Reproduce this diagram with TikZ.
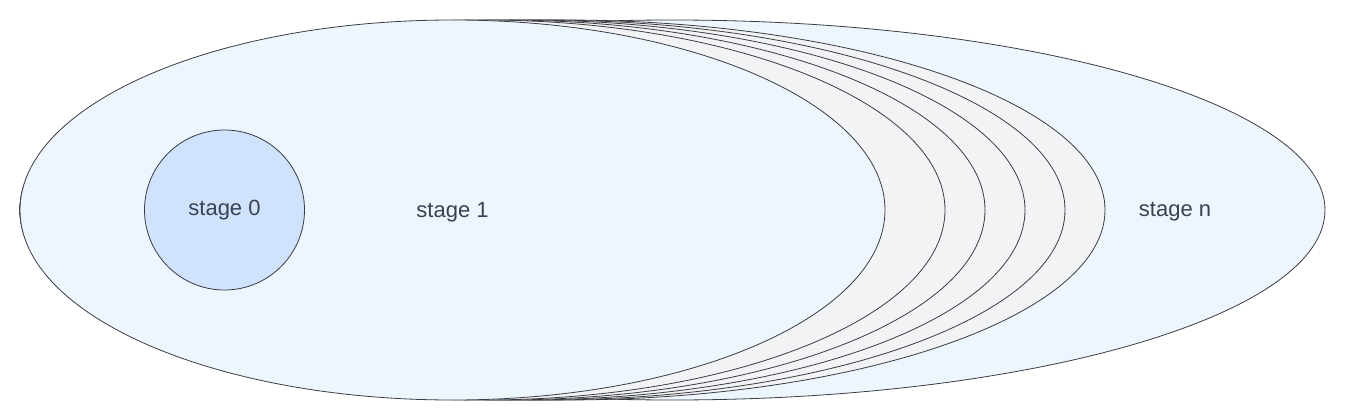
\documentclass[tikz,border=0pt]{standalone}
\usepackage{xcolor}
\usepackage{fontspec}
\setmainfont{Liberation Sans}
\usepackage{tikz}
\usetikzlibrary{shapes}
\definecolor{stageblue}{HTML}{EDF5FF}
\definecolor{stagegrey}{HTML}{F2F3F5}
\definecolor{zeroblue}{HTML}{CFE3FF}
\definecolor{edgegrey}{HTML}{3A3D42}
\definecolor{labelgrey}{HTML}{3A4250}
\tikzset{
  stage node/.style={ellipse,draw=edgegrey,line width=0.8pt,inner sep=0pt,minimum height=380pt},
  label node/.style={font=\fontsize{22}{26}\selectfont,text=labelgrey}
}

\begin{document}
\begin{tikzpicture}[x=1pt,y=-1pt]
		    \useasboundingbox (0,0) rectangle (1345,420);
		    \node[stage node,fill=stageblue,minimum width=1305pt] (n) at (672.5,210) {};
		    \node[stage node,fill=stagegrey,minimum width=1085pt] (5) at (562.5,210) {};
		    \node[stage node,fill=stagegrey,minimum width=1045pt] (4) at (542.5,210) {};
		    \node[stage node,fill=stagegrey,minimum width=1005pt] (3) at (522.5,210) {};
		    \node[stage node,fill=stagegrey,minimum width=965pt] (2) at (502.5,210) {};
		    \node[stage node,fill=stagegrey,minimum width=925pt] (1a) at (482.5,210) {};
		    \node[stage node,fill=stageblue,minimum width=865pt] (1) at (452.5,210) {};
		    \node[circle,draw=edgegrey,line width=0.8pt,fill=zeroblue,minimum size=160pt,inner sep=0pt] (0) at (224.5,210) {};
		    \node[label node] (label0) at (224.5,210) {stage 0};
		    \node[label node] (label1) at (452.5,212) {stage 1};
		    \node[label node] (labeln) at (1175,212) {stage n};
		  \end{tikzpicture}
\end{document}
